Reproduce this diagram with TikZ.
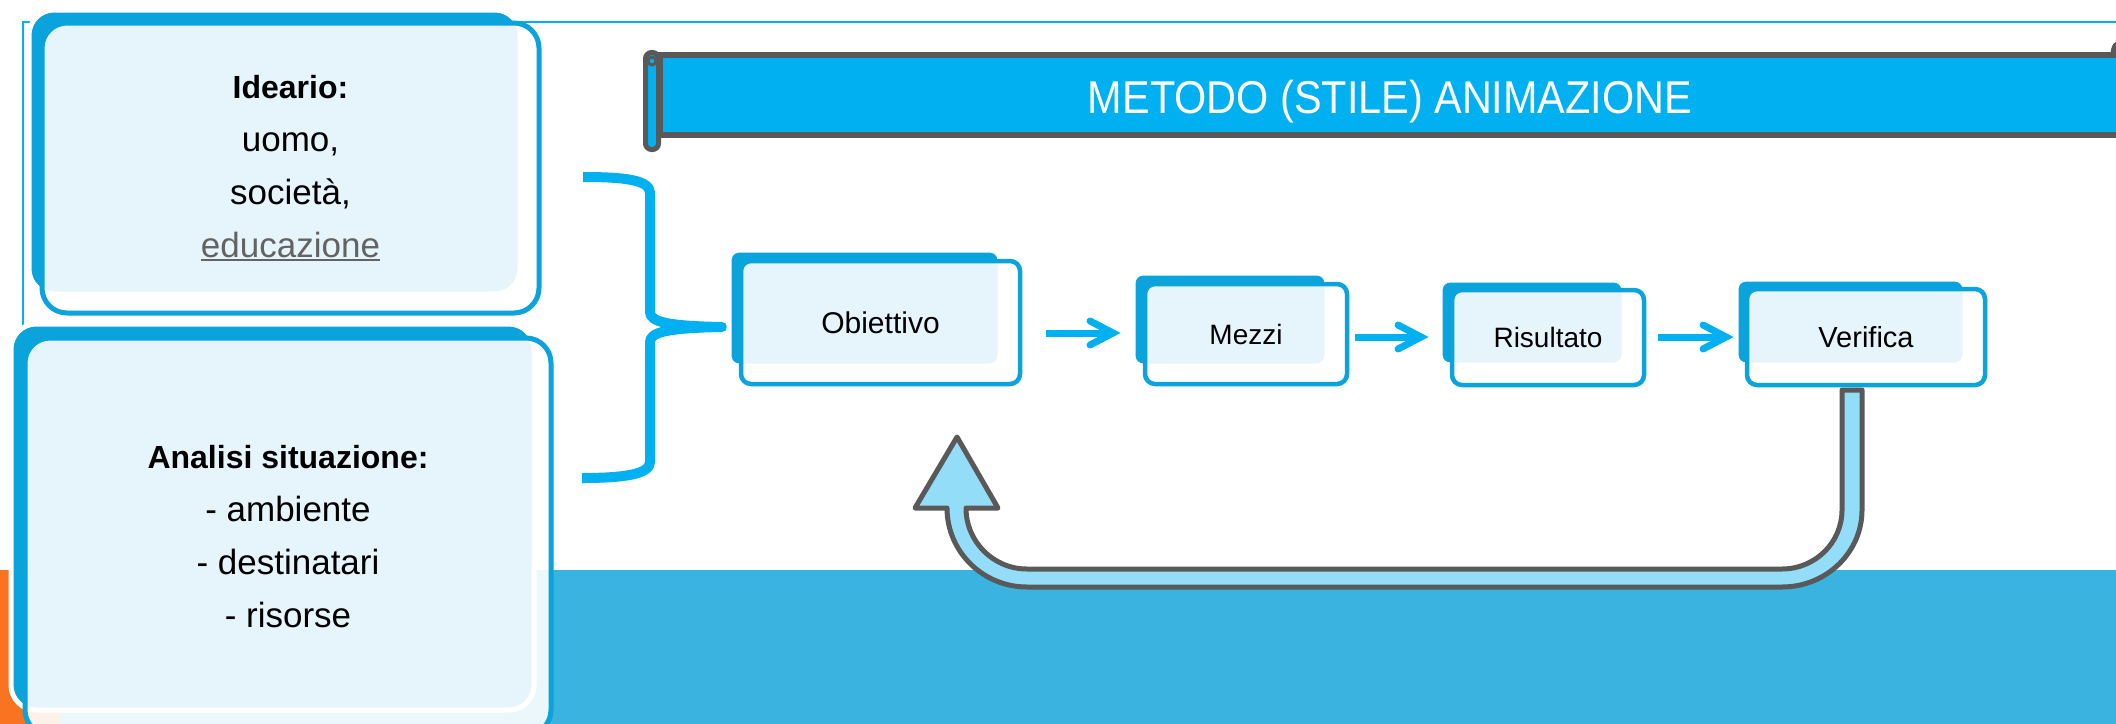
\documentclass[tikz,border=0pt]{standalone}
\usepackage{fontspec}
\setmainfont{Liberation Sans}
\newfontfamily\bannerfont[FakeStretch=0.9]{Liberation Sans}
\newcommand{\myuline}[1]{\setbox0\hbox{#1}\rlap{\rule[-4pt]{\wd0}{2pt}}\box0}
\definecolor{darkb}{HTML}{0AA3DB}
\definecolor{brightb}{HTML}{00B0F0}
\definecolor{bandb}{HTML}{3AB3E0}
\definecolor{orng}{HTML}{F97321}
\definecolor{grayo}{HTML}{595959}
\definecolor{fbfill}{HTML}{94DDF9}
\definecolor{edugray}{HTML}{636363}
\tikzset{
 backbox/.style={rectangle, rounded corners=#1, fill=darkb, draw=white, line width=5pt, inner sep=0pt},
 frontbox/.style={rectangle, rounded corners=#1, fill=white, fill opacity=0.9, text opacity=1, draw=darkb, line width=5pt, inner sep=0pt, text=black},
 smallfront/.style={frontbox=#1, line width=4.5pt},
 bigtext/.style={align=center, font=\fontsize{35}{53}\selectfont},
 chevshaft/.style={draw=brightb, line width=7pt},
 chevhead/.style={draw=brightb, line width=7pt, line cap=round, line join=miter},
 bracestyle/.style={draw=brightb, line width=10pt, line join=round},
 fbarrow/.style={fill=fbfill, draw=grayo, line width=5pt, line join=round},
 framestyle/.style={draw=brightb, line width=1.5pt},
 bannerbox/.style={rectangle, fill=brightb, draw=grayo, line width=6pt, inner sep=0pt},
 rollbox/.style={rectangle, rounded corners=6pt, fill=brightb, draw=grayo, line width=5pt, inner sep=0pt},
}
\begin{document}
\begin{tikzpicture}[x=1pt,y=-1pt]
\useasboundingbox (0,0) rectangle (2116,723);
\clip (0,0) rectangle (2116,723);
\fill[white] (0,0) rectangle (2116,723);
% frame
\draw[framestyle] (23,740) -- (23,22) -- (2140,22);
% bottom band and orange strip
\fill[bandb] (0,570) rectangle (2140,740);
\fill[orng] (0,570) rectangle (60,740);
% left boxes
\node[backbox=25pt, minimum width=491, minimum height=284] (ideaB) at (274.5,152) {};
\node[frontbox=25pt, bigtext, minimum width=497, minimum height=290] (idea) at (290.5,168)
  {{\bfseries\fontsize{32}{53}\selectfont Ideario:}\\uomo,\\società,\\{\color{edugray}\myuline{educazione}}};
\node[backbox=25pt, minimum width=523, minimum height=386] (analB) at (272.5,517) {};
\node[frontbox=25pt, bigtext, minimum width=526, minimum height=397] (anal) at (288,536.5)
  {{\bfseries\fontsize{32}{53}\selectfont Analisi situazione:}\\- ambiente\\- destinatari\\- risorse};
% brace
\draw[bracestyle] (583,177) .. controls (625,177) and (650,180) .. (650,193) -- (650,312)
  .. controls (650,322) and (668,326) .. (722,327)
  .. controls (668,328) and (650,332) .. (650,342) -- (650,462)
  .. controls (650,474) and (625,478) .. (582,478);
% banner
\node[bannerbox, minimum width=1460, minimum height=79.5] (banner) at (1390,94.75) {};
\node[rollbox, minimum width=13, minimum height=97] (rollL) at (652,101) {};
\draw[grayo, line width=3pt] (652,61) circle (4);
\draw[grayo, line width=5pt] (2113,56) .. controls (2113,46) and (2116,42) .. (2124,42);
\node[font=\bannerfont\fontsize{46}{50}\selectfont, text=white, anchor=base] (btitle) at (1390,113) {METODO (STILE) ANIMAZIONE};
% process boxes
\node[backbox=10pt, minimum width=271, minimum height=116] (objB) at (864.5,308) {};
\node[smallfront=10pt, minimum width=279, minimum height=123, font=\fontsize{30}{36}\selectfont] (obj) at (880.5,322.5) {Obiettivo};
\node[backbox=10pt, minimum width=194, minimum height=93] (mezB) at (1230,319.5) {};
\node[smallfront=10pt, minimum width=202, minimum height=100, font=\fontsize{28}{34}\selectfont] (mez) at (1246,334) {Mezzi};
\node[backbox=10pt, minimum width=184, minimum height=85] (risB) at (1532,322.5) {};
\node[smallfront=10pt, minimum width=192, minimum height=95, font=\fontsize{28}{34}\selectfont] (ris) at (1548,337.5) {Risultato};
\node[backbox=10pt, minimum width=229, minimum height=86] (verB) at (1850.5,322) {};
\node[smallfront=10pt, minimum width=238, minimum height=96, font=\fontsize{29}{35}\selectfont] (ver) at (1866,337) {Verifica};
% chevron arrows
\coordinate (a1s) at (1046,333); \coordinate (a1e) at (1113,333);
\coordinate (a2s) at (1355,337); \coordinate (a2e) at (1421,337);
\coordinate (a3s) at (1658,337); \coordinate (a3e) at (1726,337);
\foreach \s/\e in {a1s/a1e, a2s/a2e, a3s/a3e}{
  \draw[chevshaft] (\s) -- ([xshift=-2pt]\e);
  \draw[chevhead] ([shift={(-23,-12)}]\e) -- (\e) -- ([shift={(-23,12)}]\e);
}
% feedback arrow
\draw[fbarrow] (1842,390) -- (1842,510)
  .. controls (1842,542.6) and (1815.1,569) .. (1782,569)
  -- (1027,569)
  .. controls (993.3,569) and (966,541.7) .. (966,508)
  -- (998,508) -- (957,437) -- (915,508) -- (947,508)
  .. controls (947,551.6) and (982.8,587) .. (1027,587)
  -- (1782,587)
  .. controls (1826.2,587) and (1862,552.5) .. (1862,510)
  -- (1862,390) -- cycle;
\end{tikzpicture}
\end{document}
